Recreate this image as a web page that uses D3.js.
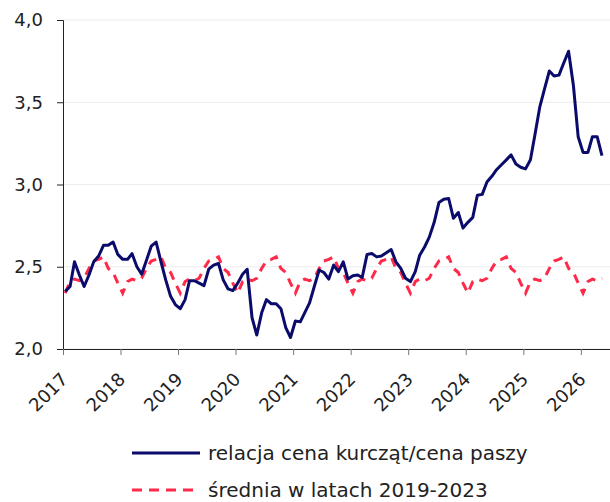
<!DOCTYPE html>
<html>
<head>
<meta charset="utf-8">
<script src="https://cdn.jsdelivr.net/npm/d3@7"></script>
<style>
  body { margin: 0; background: #fff; }
  svg { display: block; }
  .axis text { font-family: "DejaVu Sans", sans-serif; font-size: 18px; fill: #222; }
  .legend text { font-family: "DejaVu Sans", sans-serif; font-size: 20px; fill: #222; }
</style>
</head>
<body>
<div id="chart"></div>
<script>
// monthly ratio, Jan 2017 .. May 2026
var ratio_values = [
    2.35, 2.38, 2.53, 2.45, 2.38, 2.45, 2.53, 2.565, 2.63, 2.63, 2.65, 2.575,
    2.545, 2.545, 2.58, 2.50, 2.455, 2.54, 2.625, 2.65, 2.53, 2.42, 2.32, 2.27,
    2.245, 2.30, 2.415, 2.415, 2.40, 2.385, 2.485, 2.51, 2.52, 2.42, 2.365, 2.355,
    2.40, 2.455, 2.485, 2.19, 2.085, 2.22, 2.30, 2.275, 2.275, 2.245, 2.13, 2.07,
    2.17, 2.165, 2.22, 2.28, 2.38, 2.48, 2.465, 2.425, 2.51, 2.47, 2.53, 2.425,
    2.445, 2.45, 2.435, 2.575, 2.58, 2.56, 2.565, 2.585, 2.605, 2.53, 2.49, 2.43,
    2.41, 2.47, 2.57, 2.62, 2.68, 2.77, 2.89, 2.91, 2.915, 2.795, 2.83, 2.735,
    2.77, 2.80, 2.935, 2.94, 3.015, 3.05, 3.09, 3.12, 3.15, 3.18, 3.125, 3.105,
    3.095, 3.15, 3.30, 3.47, 3.58, 3.69, 3.66, 3.665, 3.74, 3.81, 3.60, 3.29,
    3.195, 3.195, 3.29, 3.29, 3.175
];
// average of 2019-2023 for each calendar month (Jan..Dec)
var avg_by_month = [2.34, 2.41, 2.425, 2.415, 2.43, 2.49, 2.535, 2.545, 2.56, 2.49, 2.465, 2.40];
var y_ticks = [2.0, 2.5, 3.0, 3.5, 4.0];
var series_names = ['relacja cena kurcząt/cena paszy', 'średnia w latach 2019-2023'];

var WIDTH = 610, HEIGHT = 502;
var MARGIN = {top: 20, right: 0, bottom: 153, left: 63};
var BLUE = '#0b0b6b', RED = '#ff2a4a';

var dates = ratio_values.map(function(d, i) { return new Date(2017, i, 15); });
var ratio = ratio_values.map(function(v, i) { return {date: dates[i], value: v}; });
var average = dates.map(function(d) { return {date: d, value: avg_by_month[d.getMonth()]}; });

var svg = d3.select('#chart').append('svg')
    .attr('width', WIDTH)
    .attr('height', HEIGHT);

var scale_x = d3.scaleTime()
    .domain([new Date(2017, 0, 1), new Date(2026, 6, 5)])
    .range([MARGIN.left, WIDTH - MARGIN.right]);
var scale_y = d3.scaleLinear()
    .domain([2, 4])
    .range([HEIGHT - MARGIN.bottom, MARGIN.top]);

// grid
svg.append('g').selectAll('line')
    .data(y_ticks)
    .enter().append('line')
    .attr('x1', MARGIN.left)
    .attr('x2', WIDTH - MARGIN.right)
    .attr('y1', function(d) { return scale_y(d); })
    .attr('y2', function(d) { return scale_y(d); })
    .attr('stroke', '#ececec')
    .attr('stroke-width', 1);

// axes
var fmt = d3.format('.1f');
var axis_y = d3.axisLeft(scale_y)
    .tickValues(y_ticks)
    .tickSize(6)
    .tickPadding(14)
    .tickFormat(function(d) { return fmt(d).replace('.', ','); });
var gy = svg.append('g')
    .attr('class', 'axis')
    .attr('transform', 'translate(' + MARGIN.left + ',0)')
    .call(axis_y);
gy.select('.domain').attr('stroke', '#222');
gy.selectAll('.tick line').attr('stroke', '#222');

var axis_x = d3.axisBottom(scale_x)
    .ticks(d3.timeYear.every(1))
    .tickSize(6)
    .tickSizeOuter(0)
    .tickFormat(d3.timeFormat('%Y'));
var gx = svg.append('g')
    .attr('class', 'axis')
    .attr('transform', 'translate(0,' + (HEIGHT - MARGIN.bottom) + ')')
    .call(axis_x);
gx.select('.domain').attr('stroke', '#222');
gx.selectAll('.tick line').attr('stroke', '#777');
gx.selectAll('.tick text')
    .attr('text-anchor', 'end')
    .attr('dy', '0.35em')
    .attr('y', 0)
    .attr('transform', 'translate(1,27) rotate(-45)');

// lines
var line = d3.line()
    .x(function(d) { return scale_x(d.date); })
    .y(function(d) { return scale_y(d.value); });

svg.append('path')
    .datum(average)
    .attr('fill', 'none')
    .attr('stroke', RED)
    .attr('stroke-width', 3)
    .attr('stroke-dasharray', '9,7')
    .attr('d', line);

svg.append('path')
    .datum(ratio)
    .attr('fill', 'none')
    .attr('stroke', BLUE)
    .attr('stroke-width', 3)
    .attr('stroke-linejoin', 'round')
    .attr('d', line);

// legend
var legend = svg.append('g').attr('class', 'legend');
var legend_rows = [
    {name: series_names[0], color: BLUE, dash: null, y: 453},
    {name: series_names[1], color: RED, dash: '10,7', y: 490}
];
legend.selectAll('line')
    .data(legend_rows)
    .enter().append('line')
    .attr('x1', 132).attr('x2', 200)
    .attr('y1', function(d) { return d.y; })
    .attr('y2', function(d) { return d.y; })
    .attr('stroke', function(d) { return d.color; })
    .attr('stroke-width', 3)
    .attr('stroke-dasharray', function(d) { return d.dash; });
legend.selectAll('text')
    .data(legend_rows)
    .enter().append('text')
    .attr('x', 208)
    .attr('y', function(d) { return d.y; })
    .attr('dy', '0.35em')
    .text(function(d) { return d.name; });
</script>
</body>
</html>
